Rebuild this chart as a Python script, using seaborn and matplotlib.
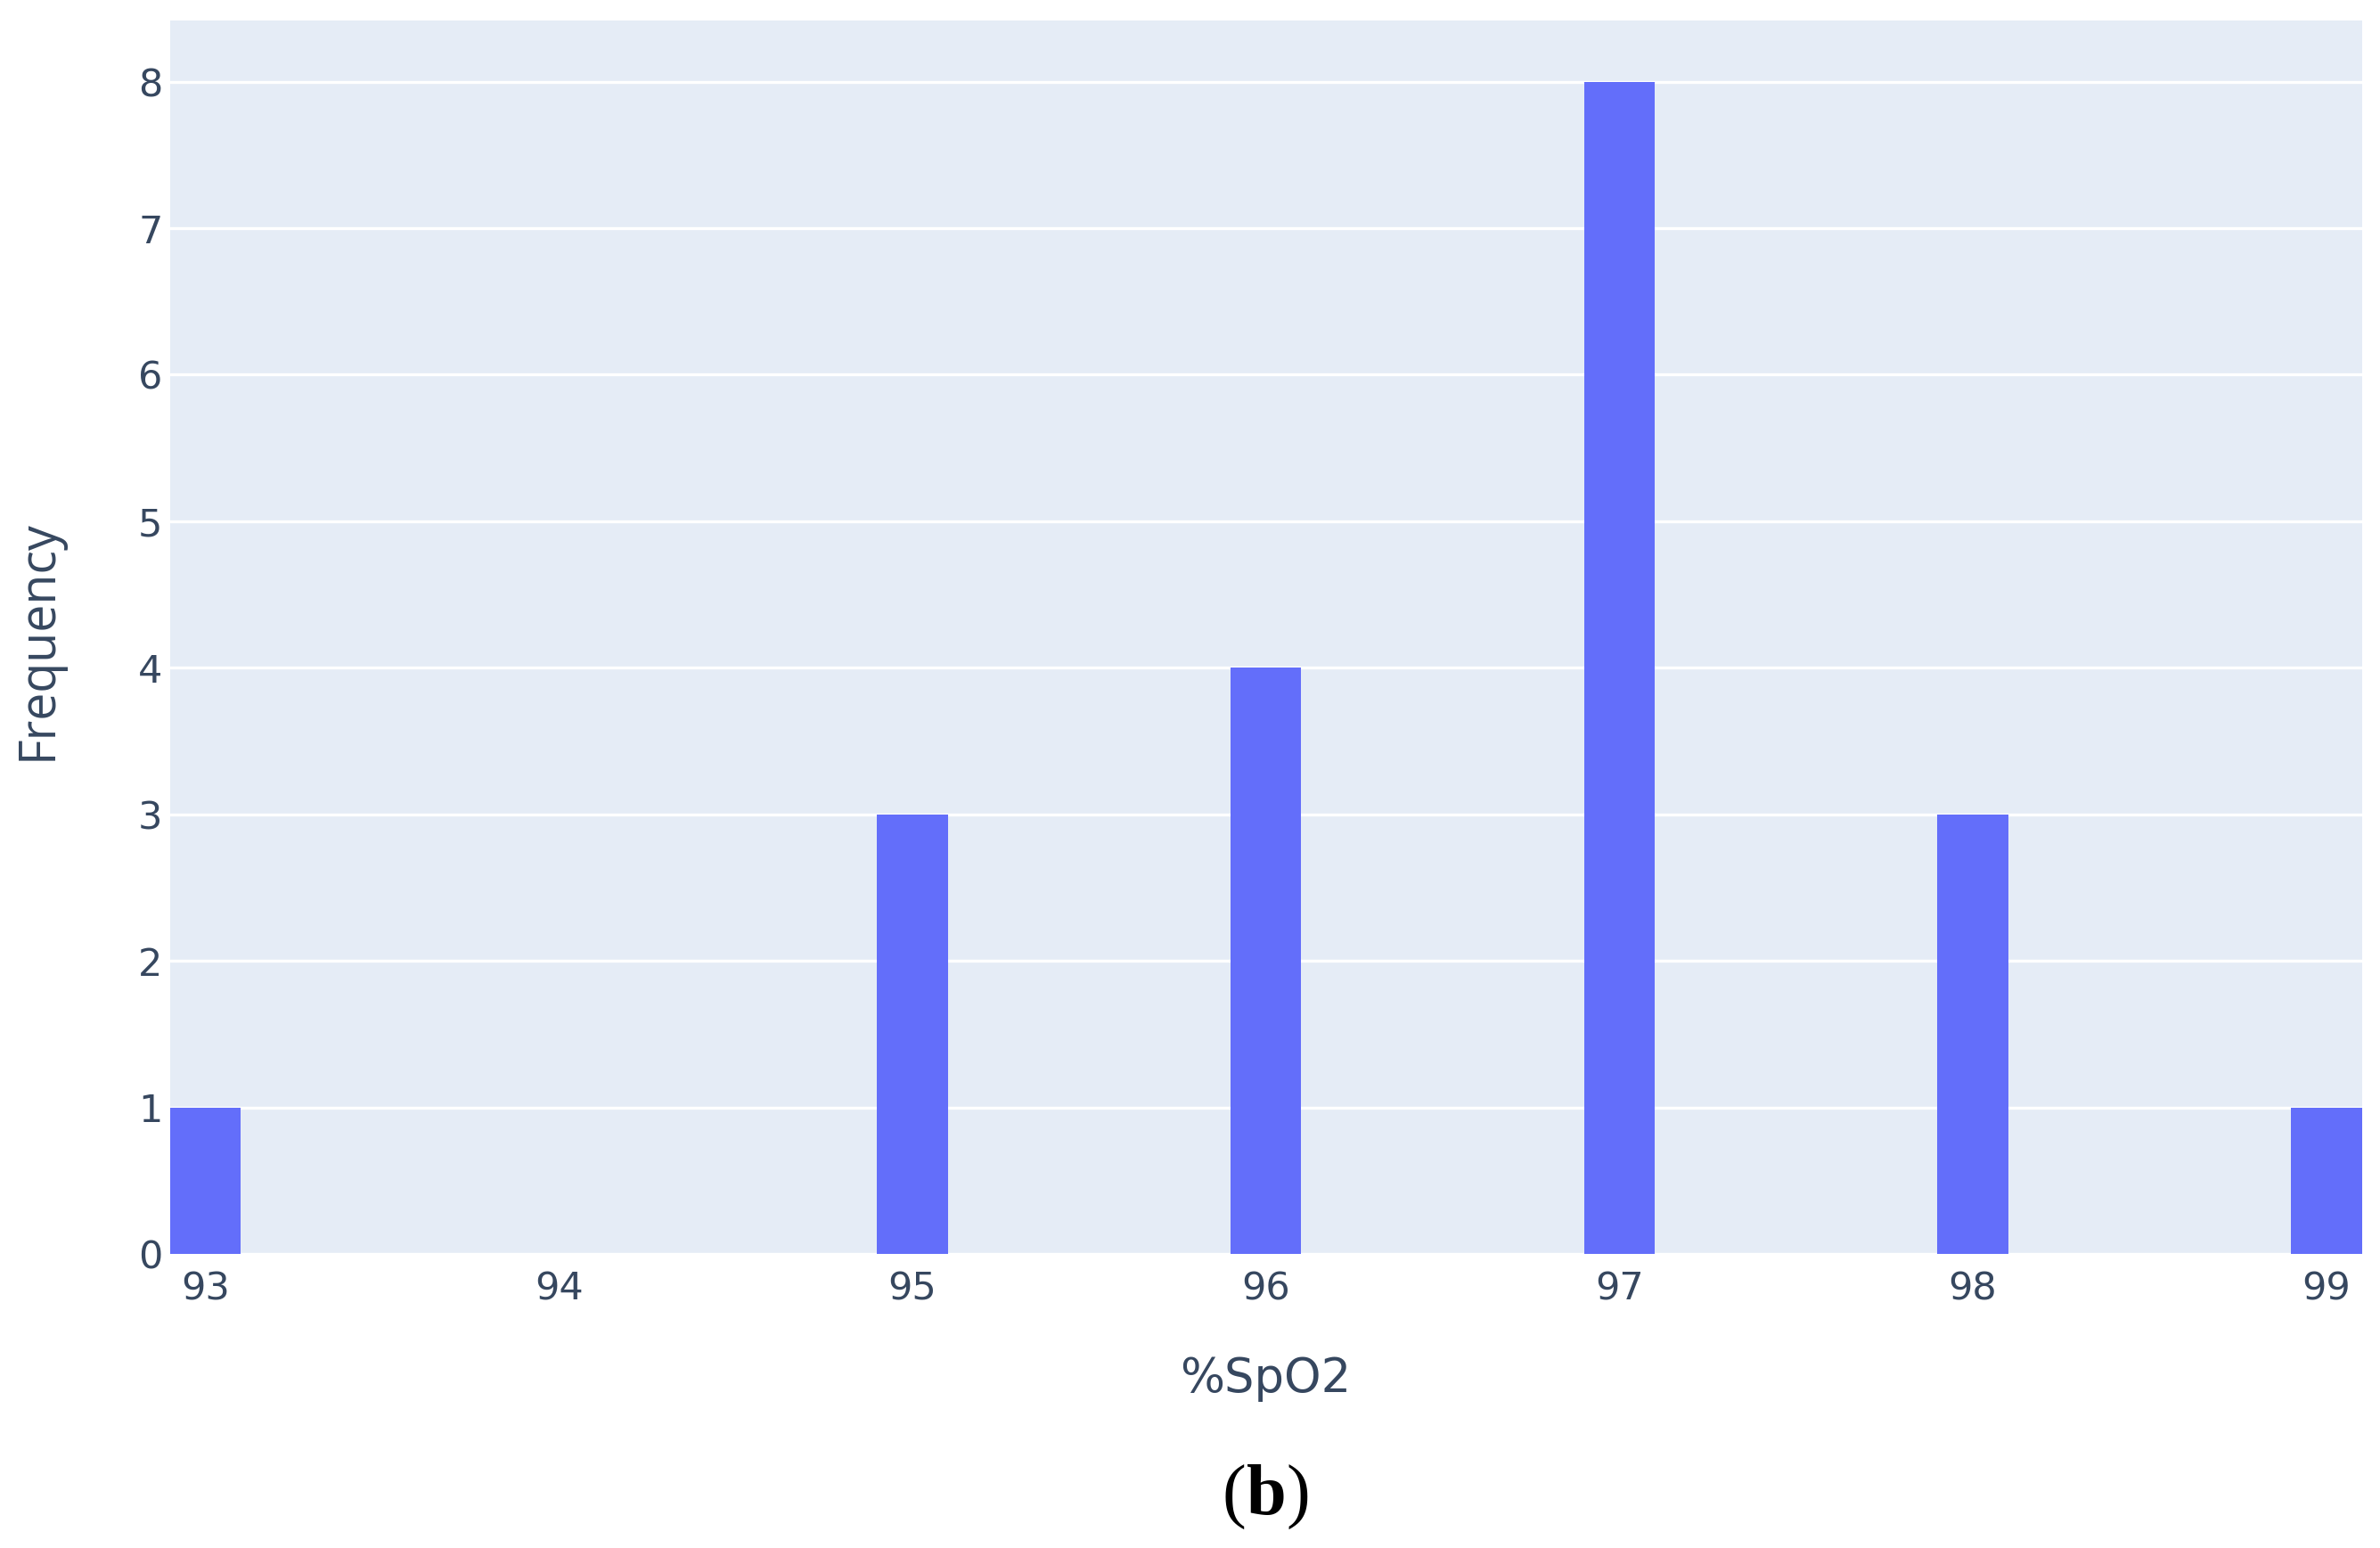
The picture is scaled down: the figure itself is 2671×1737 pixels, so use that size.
import numpy as np
import pandas as pd
import matplotlib
matplotlib.use("Agg")
import matplotlib.pyplot as plt
import seaborn as sns
from matplotlib.offsetbox import TextArea, HPacker, AnchoredOffsetbox

# Data
spo2_values = [93, 94, 95, 96, 97, 98, 99]
frequencies = [1, 0, 3, 4, 8, 3, 1]
x_ticks = [93, 94, 95, 96, 97, 98, 99]
y_ticks = [0, 1, 2, 3, 4, 5, 6, 7, 8]

df = pd.DataFrame({"spo2": spo2_values, "freq": frequencies})

sns.set_theme(style="white")
plt.rcParams['font.family'] = ['DejaVu Sans']

W, H, DPI = 2671, 1737, 100
fig = plt.figure(figsize=(W / DPI, H / DPI), dpi=DPI)
left, right, top, bottom = 190.8 / W, 2650.5 / W, 22.6 / H, 1407 / H
ax = fig.add_axes([left, 1 - bottom, right - left, bottom - top])

text_col = "#36475f"
ax.set_facecolor("#E5ECF6")

sns.histplot(data=df, x="spo2", weights="freq", discrete=True, shrink=0.2,
             color="#636EFA", alpha=1.0, edgecolor="none", linewidth=0, ax=ax)

ax.set_xlim(92.9, 99.1)
ax.set_ylim(0, 8.42)
ax.set_xticks(x_ticks)
ax.set_yticks(y_ticks)
ax.set_xticklabels([str(v) for v in x_ticks])
ax.set_yticklabels([str(v) for v in y_ticks])
ax.yaxis.grid(True, color="white", linewidth=2.4)
ax.xaxis.grid(False)
ax.set_axisbelow(True)
for s in ax.spines.values():
    s.set_visible(False)

ax.tick_params(axis="both", length=0, labelsize=31, labelcolor=text_col)
ax.tick_params(axis="x", pad=13)
ax.tick_params(axis="y", pad=6)

ax.set_xlabel("")
ax.set_ylabel("")
fig.text(1420 / W, 1 - 1547 / H, "%SpO2", ha="center", va="center",
         fontsize=38, color=text_col, family="DejaVu Sans")
fig.text(43 / W, 1 - 718 / H, "Frequency", ha="center", va="center",
         rotation=90, fontsize=40, color=text_col, family="Open Sans")

ta1 = TextArea("(", textprops=dict(fontsize=58, family="Liberation Serif", color="black"))
ta2 = TextArea("b", textprops=dict(fontsize=58, family="Liberation Serif", weight="bold", color="black"))
ta3 = TextArea(")", textprops=dict(fontsize=58, family="Liberation Serif", color="black"))
box = HPacker(children=[ta1, ta2, ta3], align="baseline", pad=0, sep=0)
anch = AnchoredOffsetbox(loc="center", child=box, pad=0, frameon=False,
                         bbox_to_anchor=(1421 / W, 1 - 1680 / H),
                         bbox_transform=fig.transFigure, borderpad=0)
fig.add_artist(anch)

fig.savefig("out.png", dpi=DPI, facecolor="white")
